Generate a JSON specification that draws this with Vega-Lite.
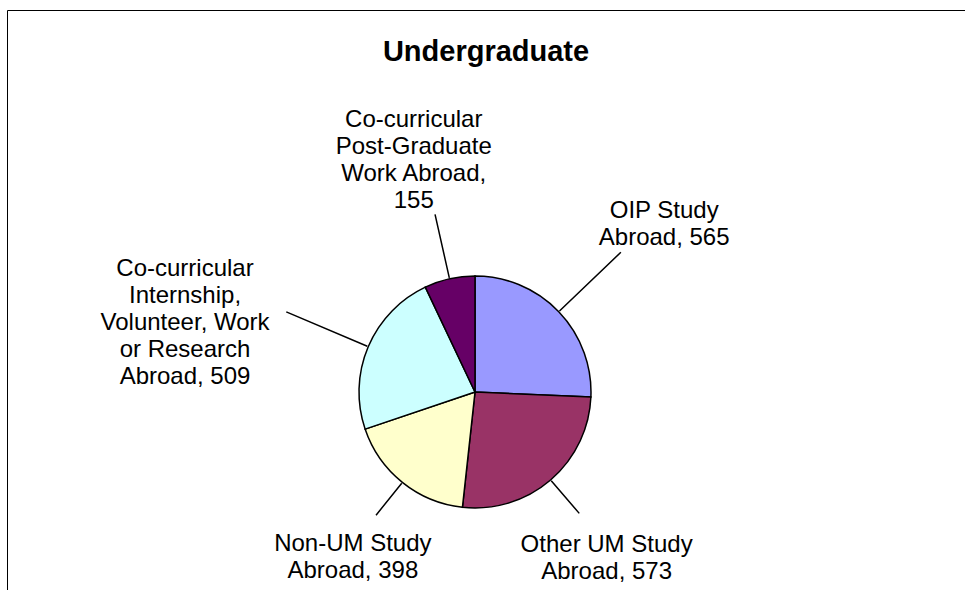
{
  "$schema": "https://vega.github.io/schema/vega-lite/v6.json",
  "width": 958,
  "height": 580,
  "autosize": "none",
  "padding": {"left": 7, "top": 10, "right": 0, "bottom": 0},
  "background": "white",
  "view": {"stroke": "black", "strokeWidth": 1, "strokeDash": [958, 1538, 580, 0]},
  "title": {
    "text": "Undergraduate",
    "font": "Liberation Sans",
    "fontSize": 29,
    "fontWeight": "bold",
    "color": "black",
    "anchor": "middle",
    "baseline": "alphabetic",
    "offset": -50,
    "dy": 30
  },
  "data": {
    "values": [
      {"category": "OIP Study Abroad", "value": 565, "wrap": "OIP Study\nAbroad, "},
      {"category": "Other UM Study Abroad", "value": 573, "wrap": "Other UM Study\nAbroad, "},
      {"category": "Non-UM Study Abroad", "value": 398, "wrap": "Non-UM Study\nAbroad, "},
      {"category": "Co-curricular Internship, Volunteer, Work or Research Abroad", "value": 509, "wrap": "Co-curricular\nInternship,\nVolunteer, Work\nor Research\nAbroad, "},
      {"category": "Co-curricular Post-Graduate Work Abroad", "value": 155, "wrap": "Co-curricular\nPost-Graduate\nWork Abroad,\n"}
    ]
  },
  "transform": [
    {"window": [{"op": "sum", "field": "value", "as": "cum1"}], "frame": [null, 0], "ignorePeers": true},
    {"calculate": "datum.cum1 - datum.value", "as": "cum0"},
    {"calculate": "datum.cum1 - datum.value / 2", "as": "mid"},
    {"calculate": "datum.wrap + datum.value", "as": "labelText"}
  ],
  "layer": [
    {
      "mark": {"type": "arc", "radius": 116, "stroke": "black", "strokeWidth": 1.5, "xOffset": -11, "yOffset": 92},
      "encoding": {
        "theta": {"field": "cum0", "type": "quantitative", "stack": null, "scale": {"domain": [0, 2200], "range": [0, 6.283185307179586], "nice": false}},
        "theta2": {"field": "cum1"},
        "color": {
          "field": "category",
          "type": "nominal",
          "scale": {
            "domain": ["OIP Study Abroad", "Other UM Study Abroad", "Non-UM Study Abroad", "Co-curricular Internship, Volunteer, Work or Research Abroad", "Co-curricular Post-Graduate Work Abroad"],
            "range": ["#9999FF", "#993366", "#FFFFCC", "#CCFFFF", "#660066"]
          },
          "legend": null
        }
      }
    },
    {
      "transform": [{"filter": "datum.category === 'OIP Study Abroad'"}],
      "layer": [
        {"mark": {"type": "arc", "radius": 202, "radius2": 117, "stroke": "black", "strokeWidth": 1.5, "fill": "transparent", "xOffset": -11, "yOffset": 92},
         "encoding": {"theta": {"field": "mid", "type": "quantitative", "stack": null}, "theta2": {"field": "mid"}}},
        {"mark": {"type": "text", "radius": 262, "font": "Liberation Sans", "fontSize": 24, "lineHeight": 27, "lineBreak": "\n", "align": "center", "baseline": "middle", "color": "black", "xOffset": -11, "yOffset": 92},
         "encoding": {"theta": {"field": "mid", "type": "quantitative", "stack": null}, "text": {"field": "labelText"}}}
      ]
    },
    {
      "transform": [{"filter": "datum.category === 'Other UM Study Abroad'"}],
      "layer": [
        {"mark": {"type": "arc", "radius": 160, "radius2": 117, "stroke": "black", "strokeWidth": 1.5, "fill": "transparent", "xOffset": -11, "yOffset": 92},
         "encoding": {"theta": {"field": "mid", "type": "quantitative", "stack": null}, "theta2": {"field": "mid"}}},
        {"mark": {"type": "text", "radius": 202, "font": "Liberation Sans", "fontSize": 24, "lineHeight": 27, "lineBreak": "\n", "align": "center", "baseline": "middle", "color": "black", "xOffset": -11, "yOffset": 92},
         "encoding": {"theta": {"field": "mid", "type": "quantitative", "stack": null}, "text": {"field": "labelText"}}}
      ]
    },
    {
      "transform": [{"filter": "datum.category === 'Non-UM Study Abroad'"}],
      "layer": [
        {"mark": {"type": "arc", "radius": 158, "radius2": 117, "stroke": "black", "strokeWidth": 1.5, "fill": "transparent", "xOffset": -11, "yOffset": 92},
         "encoding": {"theta": {"field": "mid", "type": "quantitative", "stack": null}, "theta2": {"field": "mid"}}},
        {"mark": {"type": "text", "radius": 195, "font": "Liberation Sans", "fontSize": 24, "lineHeight": 27, "lineBreak": "\n", "align": "center", "baseline": "middle", "color": "black", "xOffset": -11, "yOffset": 92},
         "encoding": {"theta": {"field": "mid", "type": "quantitative", "stack": null}, "text": {"field": "labelText"}}}
      ]
    },
    {
      "transform": [{"filter": "datum.category === 'Co-curricular Internship, Volunteer, Work or Research Abroad'"}],
      "layer": [
        {"mark": {"type": "arc", "radius": 205, "radius2": 117, "stroke": "black", "strokeWidth": 1.5, "fill": "transparent", "xOffset": -11, "yOffset": 92},
         "encoding": {"theta": {"field": "mid", "type": "quantitative", "stack": null}, "theta2": {"field": "mid"}}},
        {"mark": {"type": "text", "radius": 315, "font": "Liberation Sans", "fontSize": 24, "lineHeight": 27, "lineBreak": "\n", "align": "center", "baseline": "middle", "color": "black", "xOffset": -11, "yOffset": 92},
         "encoding": {"theta": {"field": "mid", "type": "quantitative", "stack": null}, "text": {"field": "labelText"}}}
      ]
    },
    {
      "transform": [{"filter": "datum.category === 'Co-curricular Post-Graduate Work Abroad'"}],
      "layer": [
        {"mark": {"type": "arc", "radius": 182, "radius2": 117, "stroke": "black", "strokeWidth": 1.5, "fill": "transparent", "xOffset": -11, "yOffset": 92},
         "encoding": {"theta": {"field": "mid", "type": "quantitative", "stack": null}, "theta2": {"field": "mid"}}},
        {"mark": {"type": "text", "radius": 279, "font": "Liberation Sans", "fontSize": 24, "lineHeight": 27, "lineBreak": "\n", "align": "center", "baseline": "middle", "color": "black", "xOffset": -11, "yOffset": 92},
         "encoding": {"theta": {"field": "mid", "type": "quantitative", "stack": null}, "text": {"field": "labelText"}}}
      ]
    }
  ]
}
